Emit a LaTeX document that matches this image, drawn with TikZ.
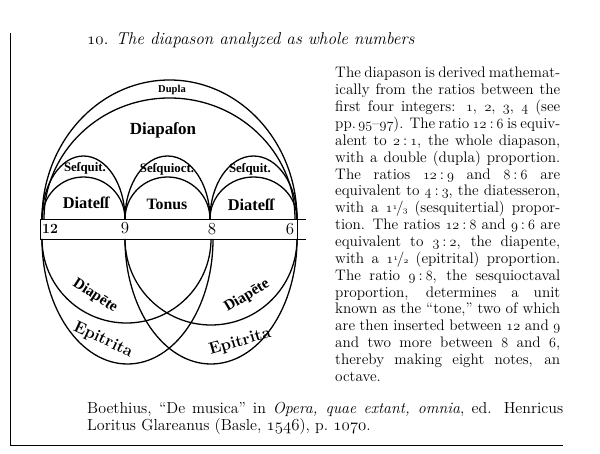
\documentclass[tikz,border=0pt]{standalone}
\usepackage{fontspec}
\usepackage{tikz}
\newfontfamily\labfont{Liberation Serif}

\newcommand{\os}[1]{{\usefont{OML}{cmm}{m}{it}#1}}
\newcommand{\frc}[2]{\raisebox{0.45ex}{\scriptsize\os{#1}}\kern-0.08em/\kern-0.05em{\scriptsize\os{#2}}}
\newcommand{\rto}{\kern0.2em:\kern0.2em}

\begin{document}
\begin{tikzpicture}[x=0.03cm,y=0.03cm,
  arcline/.style={line width=1.1pt},
  rulex/.style={line width=0.8pt},
  goth/.style={inner sep=0, font=\fontsize{#1}{#1}\selectfont\labfont\bfseries},
  goth/.default=12]
 \useasboundingbox (0,0) rectangle (600,453);
 % frame and title
 \draw[rulex] (10,420) -- (10,8) -- (563,8);
 \node[anchor=base west, inner sep=0, font=\fontsize{14.6}{17}\selectfont] (title) at (87,408)
   {\os{10}. \textit{The diapason analyzed as whole numbers}};
 % points on the band
 \coordinate (t12) at (42,234);
 \coordinate (t9) at (125,234);
 \coordinate (t8) at (210,234);
 \coordinate (t6) at (297,234);
 \coordinate (b12) at (42,214);
 \coordinate (b9) at (125,214);
 \coordinate (b8) at (211,214);
 \coordinate (b6) at (297,214);
 % the band
 \draw[rulex] (40,234) -- (306,234);
 \draw[rulex] (40,214) -- (306,214);
 \draw[rulex] (40,214) -- (40,234);
 \draw[rulex] (b6) -- (t6);
 \node[inner sep=0, font=\bfseries\large] (n12) at (50,224) {12};
 \node[inner sep=0, font=\Large] (n9) at (125,225) {9};
 \node[inner sep=0, font=\Large] (n8) at (212,224) {8};
 \node[inner sep=0, font=\Large] (n6) at (290,224) {6};
 % arcs above
 \draw[arcline] (t12) arc[start angle=180, end angle=0, x radius=127.5, y radius=139];
 \draw[arcline] (44,234) arc[start angle=180, end angle=0, x radius=125.5, y radius=121];
 \draw[arcline] (t12) arc[start angle=180, end angle=0, x radius=41.5, y radius=63];
 \draw[arcline] (t9) arc[start angle=180, end angle=0, x radius=42.5, y radius=63];
 \draw[arcline] (t8) arc[start angle=180, end angle=0, x radius=43.5, y radius=63];
 \draw[arcline] (t12) arc[start angle=180, end angle=0, x radius=41.5, y radius=42];
 \draw[arcline] (t9) arc[start angle=180, end angle=0, x radius=42.5, y radius=42];
 \draw[arcline] (t8) arc[start angle=180, end angle=0, x radius=43.5, y radius=42];
 % arcs below
 \draw[arcline] (b12) arc[start angle=180, end angle=360, x radius=84.5, y radius=84];
 \draw[arcline] (b12) arc[start angle=180, end angle=360, x radius=85.5, y radius=125];
 \draw[arcline] (b9) arc[start angle=180, end angle=360, x radius=86, y radius=86];
 \draw[arcline] (b9) arc[start angle=180, end angle=360, x radius=86, y radius=125];
 % labels
 \node[goth=9] (dupla) at (172,363) {Dupla};
 \node[goth=14.5] (diapason) at (163,323) {Diapaſon};
 \node[goth=11] (sesq1) at (85,285) {Seſquit.};
 \node[goth=11] (sesq2) at (167,284) {Seſquioct.};
 \node[goth=11] (sesq3) at (250,284) {Seſquit.};
 \node[goth=14] (diat1) at (86,250) {Diateſſ};
 \node[goth=13.5] (tonus) at (167,249) {Tonus};
 \node[goth=14] (diat2) at (251,248) {Diateſſ};
 \node[goth=13, rotate=-33] (diap1) at (95,157) {Diapēte};
 \node[goth=13, rotate=31] (diap2) at (247,157) {Diapēte};
 \node[inner sep=0, font=\fontsize{14}{14}\selectfont\bfseries, rotate=-25] (epi1) at (103,113) {Epitrita};
 \node[inner sep=0, font=\fontsize{14}{14}\selectfont\bfseries, rotate=16] (epi2) at (240,111) {Epitrita};
 % text beside and below
 \node[anchor=north west, inner sep=0, text width=6.75cm, align=justify,
   font=\fontsize{13}{14.4}\selectfont] (body) at (335,386)
   {The diapason is derived mathemat-\linebreak
    ically from the ratios between the\linebreak
    first four integers: \os{1}, \os{2}, \os{3}, \os{4} (see\linebreak
    pp.\,\os{95}--\os{97}). The ratio \os{12}\rto\os{6} is equiv-\linebreak
    alent to \os{2}\rto\os{1}, the whole diapason,\linebreak
    with a double (dupla) proportion.\linebreak
    The ratios \os{12}\rto\os{9} and \os{8}\rto\os{6} are\linebreak
    equivalent to \os{4}\rto\os{3}, the diatesseron,\linebreak
    with a \os{1}\frc{1}{3} (sesquitertial) propor-\linebreak
    tion. The ratios \os{12}\rto\os{8} and \os{9}\rto\os{6} are\linebreak
    equivalent to \os{3}\rto\os{2}, the diapente,\linebreak
    with a \os{1}\frc{1}{2} (epitrital) proportion.\linebreak
    The ratio \os{9}\rto\os{8}, the sesquioctaval\linebreak
    proportion, determines a unit\linebreak
    known as the ``tone,'' two of which\linebreak
    are then inserted between \os{12} and \os{9}\linebreak
    and two more between \os{8} and \os{6},\linebreak
    thereby making eight notes, an\linebreak
    octave.};
 \node[anchor=north west, inner sep=0, text width=14.28cm, align=justify,
   font=\fontsize{13.6}{14.2}\selectfont] (source) at (87,51)
   {Boethius, ``De musica'' in \textit{Opera, quae extant, omnia}, ed. Henricus\linebreak
    Loritus Glareanus (Basle, \os{1546}), p.\ \os{1070}.};
\end{tikzpicture}
\end{document}
